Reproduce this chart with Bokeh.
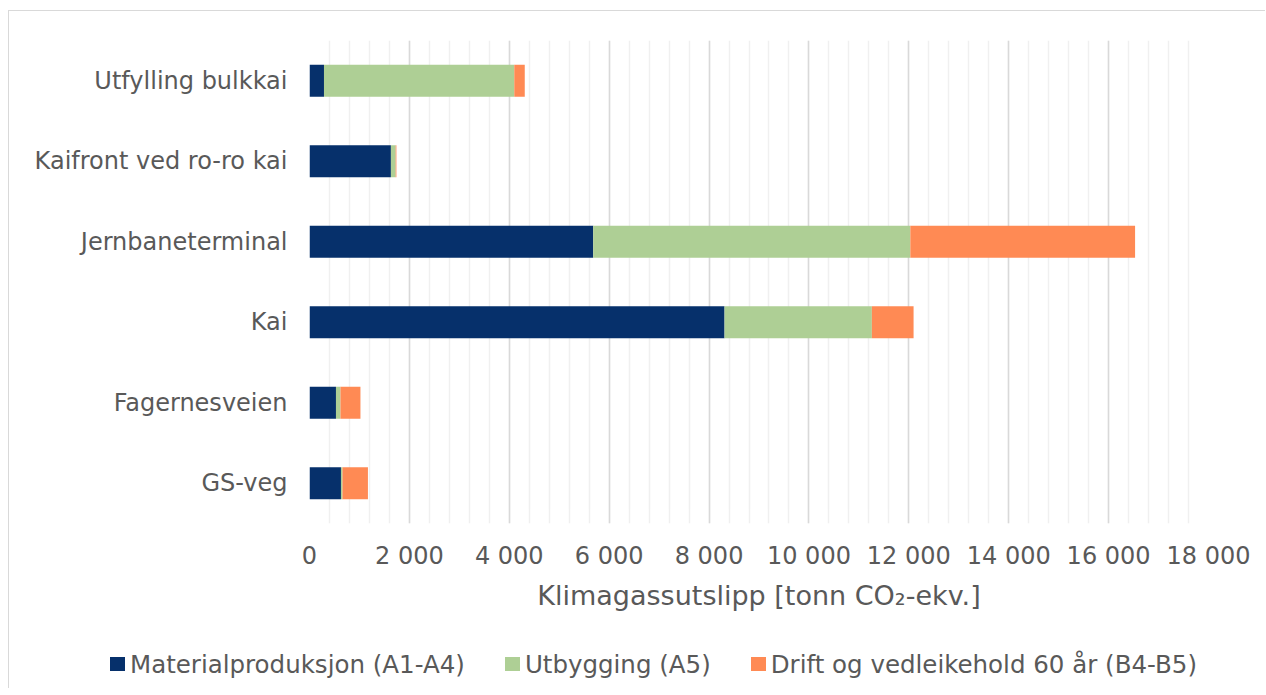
from bokeh.plotting import figure
from bokeh.layouts import column
from bokeh.models import Range1d, FactorRange, SingleIntervalTicker, ColumnDataSource, Div
from bokeh.embed import file_html
from bokeh.resources import INLINE

categories = ["Utfylling bulkkai", "Kaifront ved ro-ro kai", "Jernbaneterminal", "Kai", "Fagernesveien", "GS-veg"]
materialproduksjon = [290, 1630, 5680, 8310, 530, 630]
utbygging = [3810, 95, 6350, 2950, 90, 30]
drift = [210, 15, 4500, 835, 400, 510]
series_names = ["Materialproduksjon (A1-A4)", "Utbygging (A5)", "Drift og vedleikehold 60 år (B4-B5)"]
colors = ["#06306b", "#aecf95", "#ff8a54"]
tick_values = [0, 2000, 4000, 6000, 8000, 10000, 12000, 14000, 16000, 18000]
tick_labels = ["0", "2 000", "4 000", "6 000", "8 000", "10 000", "12 000", "14 000", "16 000", "18 000"]
x_title = "Klimagassutslipp [tonn CO₂-ekv.]"

FONT = "DejaVu Sans"
TXT = "#595959"

src = ColumnDataSource(dict(cat=categories, m=materialproduksjon, u=utbygging, d=drift))

p = figure(
    frame_width=899, frame_height=483,
    y_range=FactorRange(*reversed(categories), range_padding=0),
    x_range=Range1d(0, 18000),
    output_backend="svg", toolbar_location=None,
    min_border_left=300, min_border_right=57, min_border_top=29, min_border_bottom=105,
)
p.outline_line_color = None

renderers = p.hbar_stack(["m", "u", "d"], y="cat", height=0.4, color=colors, source=src, line_color=None)

ticker = SingleIntervalTicker(interval=2000, num_minor_ticks=5)
p.xaxis.ticker = ticker
p.xgrid.ticker = ticker
p.xaxis.major_label_overrides = {v: l for v, l in zip(tick_values, tick_labels)}
p.xgrid.grid_line_color = "#d9d9d9"
p.xgrid.grid_line_width = 1.5
p.xgrid.minor_grid_line_color = "#f0f0f0"
p.xgrid.minor_grid_line_width = 1.5
p.ygrid.grid_line_color = None

for ax in (p.xaxis, p.yaxis):
    ax.axis_line_color = None
    ax.major_tick_line_color = None
    ax.minor_tick_line_color = None
    ax.major_label_text_font = FONT
    ax.major_label_text_font_size = "24px"
    ax.major_label_text_color = TXT

p.xaxis.major_label_standoff = 12
p.yaxis.major_label_standoff = 16
p.xaxis.axis_label = x_title
p.xaxis.axis_label_text_font = FONT
p.xaxis.axis_label_text_font_size = "27px"
p.xaxis.axis_label_text_font_style = "normal"
p.xaxis.axis_label_text_color = TXT
p.xaxis.axis_label_standoff = 7

# legend strip below the chart (HTML, real text)
items = "".join(
    f'<span style="display:inline-flex;align-items:center;margin-right:40px">'
    f'<span style="display:inline-block;width:15px;height:14px;background:{c};margin-right:5px"></span>{n}</span>'
    for n, c in zip(series_names, colors)
)
legend_html = (
    f'<div style="display:flex;align-items:center;box-sizing:border-box;height:60px;padding-top:12px;'
    f'padding-left:101px;font-family:\'{FONT}\';font-size:24.5px;color:{TXT};white-space:nowrap">{items}</div>'
)
legend_div = Div(text=legend_html, width=1256, height=60, margin=0)

layout = column(p, legend_div, spacing=0,
                styles={"border-left": "1px solid #d9d9d9", "border-top": "1px solid #d9d9d9",
                        "margin-left": "8px", "margin-top": "10px"})

open("out.html", "w").write(file_html(layout, INLINE))
